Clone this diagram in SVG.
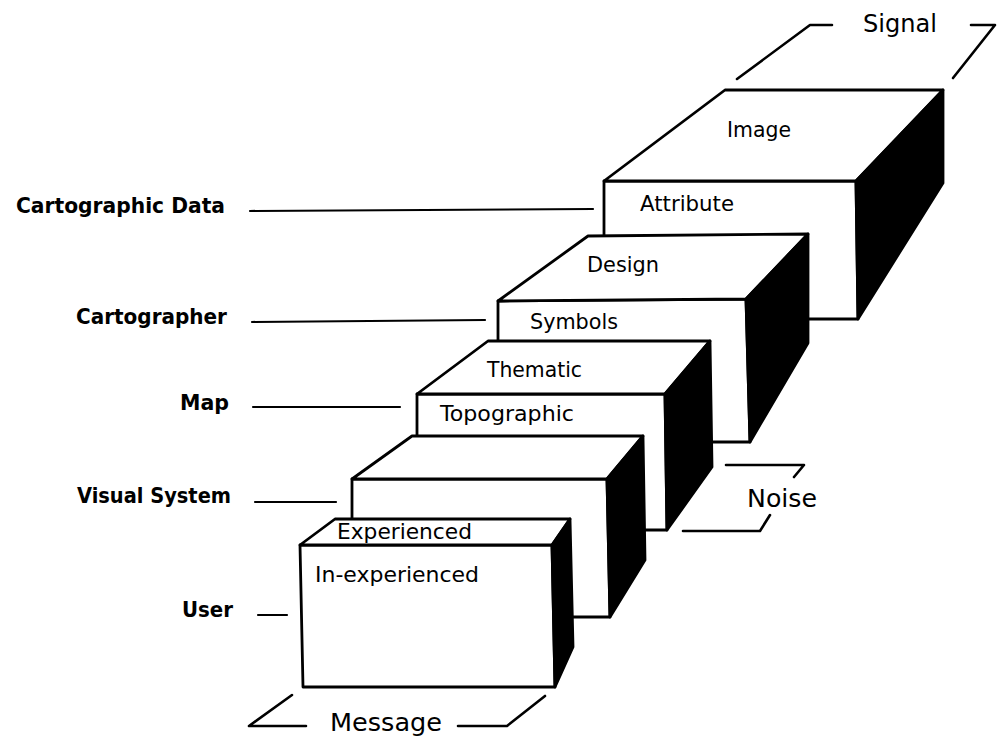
<svg xmlns="http://www.w3.org/2000/svg" width="997" height="740" viewBox="0 0 997 740">
  <style>
    .face { fill: #fff; stroke: #000; stroke-width: 2.8; stroke-linejoin: round; }
    .side { fill: #000; stroke: #000; stroke-width: 2.8; stroke-linejoin: round; }
    .lead { fill: none; stroke: #000; stroke-width: 2.2; stroke-linecap: round; }
    .brk  { fill: none; stroke: #000; stroke-width: 2.6; stroke-linecap: round; stroke-linejoin: round; }
    .txt  { font-family: "DejaVu Sans", "Liberation Sans", sans-serif; font-size: 21px; fill: #000; }
    .lbl  { font-family: "DejaVu Sans", "Liberation Sans", sans-serif; font-size: 22px; font-weight: bold; fill: #000; }
    .big  { font-family: "DejaVu Sans", "Liberation Sans", sans-serif; font-size: 24px; fill: #000; }
  </style>
  <rect width="997" height="740" fill="#fff"/>

  <!-- stacked blocks, drawn back to front -->
  <g id="block-data">
    <polygon class="face" points="604,181 856,181 858,319 604,319"/>
    <polygon class="face" points="604,181 725,90 943,90 856,181"/>
    <polygon class="side" points="856,181 943,90 943,183 858,319"/>
    <text class="txt" x="727" y="137" textLength="64" lengthAdjust="spacingAndGlyphs">Image</text>
    <text class="txt" x="640" y="211" textLength="94" lengthAdjust="spacingAndGlyphs">Attribute</text>
  </g>

  <g id="block-cartographer">
    <polygon class="face" points="498,301 746,299 750,442 498,442"/>
    <polygon class="face" points="498,301 588,236 808,234 746,299"/>
    <polygon class="side" points="746,299 808,234 808,343 750,442"/>
    <text class="txt" x="587" y="272" textLength="72" lengthAdjust="spacingAndGlyphs">Design</text>
    <text class="txt" x="530" y="329" textLength="88" lengthAdjust="spacingAndGlyphs">Symbols</text>
  </g>

  <g id="block-map">
    <polygon class="face" points="417,394 665,394 667,530 417,530"/>
    <polygon class="face" points="417,394 488,341 710,341 665,394"/>
    <polygon class="side" points="665,394 710,341 712,467 667,530"/>
    <text class="txt" x="487" y="377" textLength="95" lengthAdjust="spacingAndGlyphs">Thematic</text>
    <text class="txt" x="440" y="421" textLength="134" lengthAdjust="spacingAndGlyphs">Topographic</text>
  </g>

  <g id="block-visual">
    <polygon class="face" points="352,479 607,479 610,617 352,617"/>
    <polygon class="face" points="352,479 412,436 643,436 607,479"/>
    <polygon class="side" points="607,479 643,436 645,560 610,617"/>
  </g>

  <g id="block-user">
    <polygon class="face" points="300,545 552,545 555,687 303,687"/>
    <polygon class="face" points="300,545 335,519 570,519 552,545"/>
    <polygon class="side" points="552,545 570,519 573,647 555,687"/>
    <text class="txt" x="337" y="539" textLength="135" lengthAdjust="spacingAndGlyphs">Experienced</text>
    <text class="txt" x="315" y="582" textLength="164" lengthAdjust="spacingAndGlyphs">In-experienced</text>
  </g>

  <!-- side labels -->
  <g id="labels">
    <text class="lbl" x="16" y="213" textLength="209" lengthAdjust="spacingAndGlyphs">Cartographic Data</text>
    <text class="lbl" x="76" y="324" textLength="151" lengthAdjust="spacingAndGlyphs">Cartographer</text>
    <text class="lbl" x="180" y="410" textLength="49" lengthAdjust="spacingAndGlyphs">Map</text>
    <text class="lbl" x="77" y="503" textLength="154" lengthAdjust="spacingAndGlyphs">Visual System</text>
    <text class="lbl" x="182" y="617" textLength="51" lengthAdjust="spacingAndGlyphs">User</text>
  </g>

  <!-- leader lines and brackets -->
  <g id="connectors">
    <line class="lead" x1="250" y1="211" x2="593" y2="209"/>
    <line class="lead" x1="252" y1="322" x2="485" y2="320"/>
    <line class="lead" x1="253" y1="407" x2="400" y2="407"/>
    <line class="lead" x1="255" y1="502" x2="336" y2="502"/>
    <line class="lead" x1="258" y1="615" x2="287" y2="615"/>

    <polyline class="brk" points="737,79 810,25 832,25"/>
    <polyline class="brk" points="971,25 995,25 953,78"/>
    <polyline class="brk" points="726,465 804,465 794,477"/>
    <polyline class="brk" points="683,531 760,531 770,515"/>
    <polyline class="brk" points="292,695 249,726 306,726"/>
    <polyline class="brk" points="458,726 507,726 545,696"/>
  </g>

  <g id="bracket-labels">
    <text class="big" x="863" y="32" textLength="74" lengthAdjust="spacingAndGlyphs">Signal</text>
    <text class="big" x="747" y="507" textLength="70" lengthAdjust="spacingAndGlyphs">Noise</text>
    <text class="big" x="330" y="731" textLength="112" lengthAdjust="spacingAndGlyphs">Message</text>
  </g>
</svg>
